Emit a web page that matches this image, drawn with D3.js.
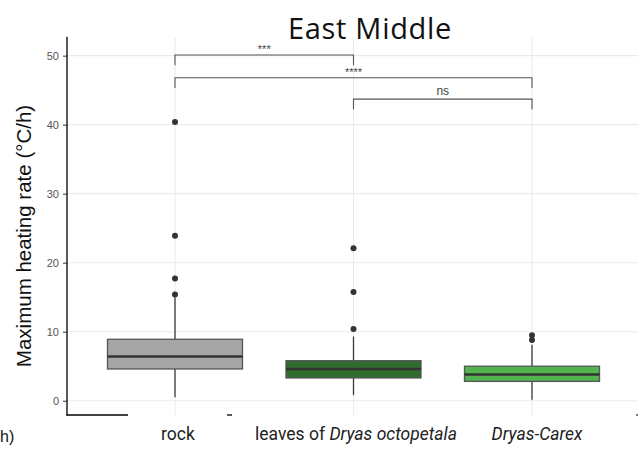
<!DOCTYPE html>
<html><head><meta charset="utf-8">
<script src="https://cdn.jsdelivr.net/npm/d3@7"></script>
<style>body{margin:0;background:#fff}svg{display:block}</style>
</head><body><svg id="c" width="638" height="450"></svg>
<script>
const categories = ["rock", "leaves of Dryas octopetala", "Dryas-Carex"];
const q1 = [4.6, 3.3, 2.8];
const median = [6.4, 4.6, 3.8];
const q3 = [8.9, 5.8, 5.0];
const whiskerLow = [0.5, 0.8, 0.15];
const whiskerHigh = [15.0, 9.3, 8.1];
const outliers = [[15.4, 17.7, 23.9, 40.4], [10.4, 15.75, 22.1], [8.8, 9.5]];
const fills = ["#a6a6a6", "#2f6c2d", "#52b34f"];
const yTicks = [0, 10, 20, 30, 40, 50];
const comparisons = [
  {from: 0, to: 1, y: 50.1, label: "***"},
  {from: 0, to: 2, y: 46.8, label: "****"},
  {from: 1, to: 2, y: 43.7, label: "ns"}
];

const svg = d3.select("#c");
const y = d3.scaleLinear().domain([-2.07, 52.6]).range([415, 37.7]);
const x = d3.scalePoint().domain(categories).range([175, 532]);
const left = 67, right = 638;
const boxW = 135;

// grid
svg.append("g").selectAll("line").data(yTicks).join("line")
  .attr("x1", left).attr("x2", right).attr("y1", d => y(d)).attr("y2", d => y(d))
  .attr("stroke", "#ebebeb").attr("stroke-width", 1.1);
svg.append("g").selectAll("line").data(categories).join("line")
  .attr("x1", d => x(d)).attr("x2", d => x(d)).attr("y1", y.range()[1]).attr("y2", y.range()[0])
  .attr("stroke", "#ebebeb").attr("stroke-width", 1.1);

// y axis
const yAxis = d3.axisLeft(y).tickValues(yTicks).tickSize(4).tickPadding(4);
const ga = svg.append("g").attr("transform", `translate(${left},0)`).call(yAxis);
ga.select(".domain").remove();
ga.selectAll(".tick line").attr("stroke", "#333");
ga.selectAll(".tick text").attr("fill", "#555").attr("font-size", 11)
  .attr("font-family", "Liberation Sans, Arial, sans-serif");
svg.append("line").attr("x1", left).attr("x2", left).attr("y1", 36.7).attr("y2", 415.5)
  .attr("stroke", "#000").attr("stroke-width", 1.3);
// partial x axis line
svg.append("line").attr("x1", left - 0.6).attr("x2", 128).attr("y1", 415).attr("y2", 415)
  .attr("stroke", "#000").attr("stroke-width", 1.3);
svg.append("line").attr("x1", 227).attr("x2", 232).attr("y1", 415).attr("y2", 415)
  .attr("stroke", "#000").attr("stroke-width", 1.3);
svg.append("line").attr("x1", 636).attr("x2", 638).attr("y1", 415).attr("y2", 415)
  .attr("stroke", "#000").attr("stroke-width", 1);

// boxes
const g = svg.append("g");
categories.forEach((c, i) => {
  const cx = x(c);
  g.append("line").attr("x1", cx).attr("x2", cx).attr("y1", y(whiskerLow[i])).attr("y2", y(q1[i]))
    .attr("stroke", "#3a3a3a").attr("stroke-width", 1.3);
  g.append("line").attr("x1", cx).attr("x2", cx).attr("y1", y(q3[i])).attr("y2", y(whiskerHigh[i]))
    .attr("stroke", "#3a3a3a").attr("stroke-width", 1.3);
  g.append("rect").attr("x", cx - boxW / 2).attr("width", boxW)
    .attr("y", y(q3[i])).attr("height", y(q1[i]) - y(q3[i]))
    .attr("fill", fills[i]).attr("stroke", "#555").attr("stroke-width", 1.3);
  g.append("line").attr("x1", cx - boxW / 2).attr("x2", cx + boxW / 2)
    .attr("y1", y(median[i])).attr("y2", y(median[i]))
    .attr("stroke", "#333").attr("stroke-width", 2.4);
  g.selectAll(null).data(outliers[i]).join("circle")
    .attr("cx", cx).attr("cy", d => y(d)).attr("r", 3).attr("fill", "#333");
});

// brackets
const tickLen = 1.5;
comparisons.forEach(cp => {
  const x1 = x(categories[cp.from]), x2 = x(categories[cp.to]);
  svg.append("path")
    .attr("d", `M${x1},${y(cp.y - tickLen)}V${y(cp.y)}H${x2}V${y(cp.y - tickLen)}`)
    .attr("fill", "none").attr("stroke", "#555").attr("stroke-width", 1.1);
  svg.append("text").attr("x", (x1 + x2) / 2).attr("y", y(cp.y) - (cp.label === "ns" ? 4 : 2))
    .attr("text-anchor", "middle").attr("fill", "#444")
    .attr("font-size", cp.label === "ns" ? 12 : 11)
    .attr("font-family", "Liberation Sans, Arial, sans-serif")
    .text(cp.label);
});

// title
svg.append("text").attr("x", 370).attr("y", 38.5).attr("text-anchor", "middle")
  .attr("font-family", "Open Sans, sans-serif").attr("font-size", 29)
  .attr("letter-spacing", 0.7)
  .attr("fill", "#111").text("East Middle");

// y label
svg.append("text").attr("transform", "translate(31,236) rotate(-90)")
  .attr("text-anchor", "middle").attr("font-family", "Liberation Sans, Arial, sans-serif")
  .attr("font-size", 20.5).attr("fill", "#111").text("Maximum heating rate (°C/h)");

// x labels
const xl = svg.append("g").attr("font-family", "Roboto, sans-serif").attr("font-size", 17.5).attr("fill", "#222");
xl.append("text").attr("x", 178).attr("y", 440).attr("text-anchor", "middle").text("rock");
const t2 = xl.append("text").attr("x", 356).attr("y", 440).attr("text-anchor", "middle");
t2.append("tspan").text("leaves of ");
t2.append("tspan").attr("font-style", "italic").text("Dryas octopetala");
xl.append("text").attr("x", 537).attr("y", 440).attr("text-anchor", "middle")
  .attr("font-style", "italic").text("Dryas-Carex");

// cropped fragment at bottom-left
svg.append("text").attr("x", 0).attr("y", 442).attr("font-family", "Liberation Sans, Arial, sans-serif")
  .attr("font-size", 16).attr("fill", "#111").text("h)");
</script></body></html>
